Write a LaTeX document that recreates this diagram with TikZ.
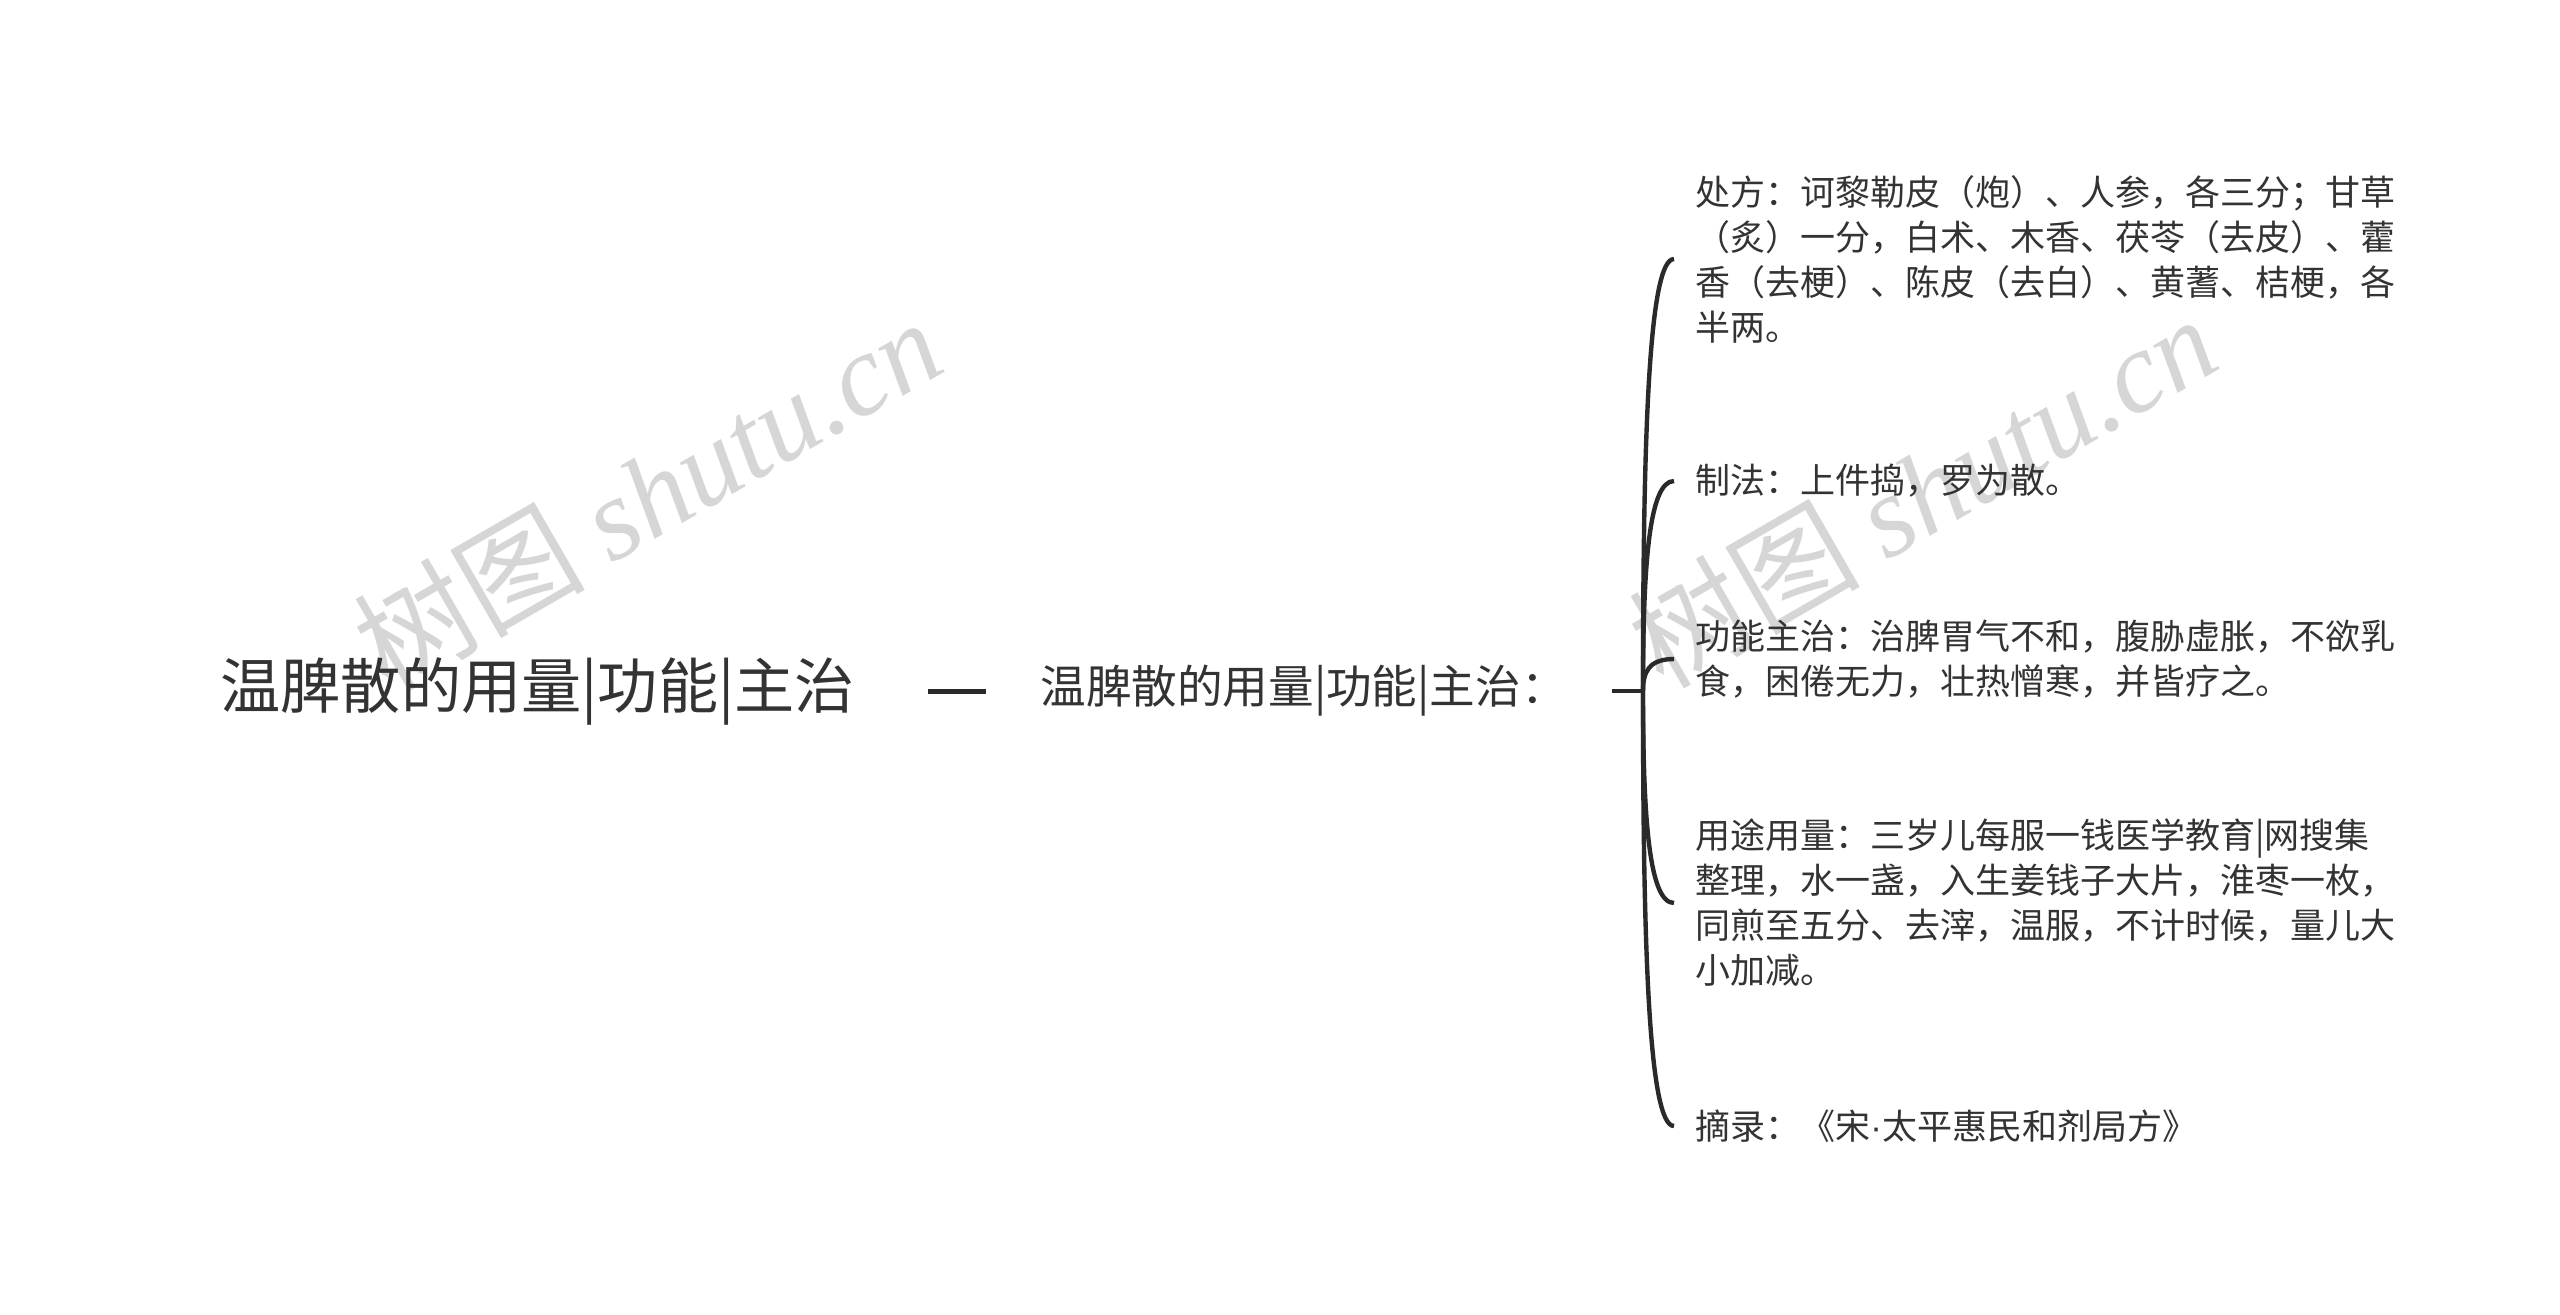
\documentclass[tikz,border=0pt]{standalone}
\usepackage{fontspec}
\setmainfont{Noto Sans CJK SC}
\newfontfamily\wmlatin{Liberation Serif}
\newfontfamily\latinsans{Liberation Sans}
\usetikzlibrary{calc}
\definecolor{txt}{HTML}{333333}
\definecolor{ln}{HTML}{2A2A2A}
\definecolor{wmc}{HTML}{D6D6D6}
\tikzset{
 leaf/.style={anchor=west, inner xsep=10.5pt, inner ysep=0pt, align=left, text=txt, font=\fontsize{17.5pt}{22.5pt}\selectfont},
 br/.style={draw=ln, line width=2.2pt},
 wm/.style={text=wmc, font=\fontsize{58pt}{60pt}\selectfont, inner sep=0pt},
 rootnode/.style={anchor=west, inner sep=0pt, text=txt, font=\fontsize{30.1pt}{36pt}\selectfont},
 midnode/.style={anchor=west, inner sep=0pt, text=txt, font=\fontsize{22.8pt}{28pt}\selectfont},
}
\begin{document}
\begin{tikzpicture}[x=0.5pt,y=-0.5pt]
\fill[white] (0,0) rectangle (2560,1314);
\useasboundingbox (0,0) rectangle (2560,1314);
\node[wm, rotate=30] (wm1) at (647,493) {树图 {\wmlatin\itshape shutu.cn}};
\node[wm, rotate=30] (wm2) at (1922,490) {树图 {\wmlatin\itshape shutu.cn}};
\node[rootnode] (root) at (220,691) {温脾散的用量|功能|主治};
\node[midnode] (mid) at (1040,691) {温脾散的用量|功能|主治：};
\draw[br, line width=2.5pt, shorten <=36.5pt, shorten >=27pt] (root.east) -- (mid.west);
\coordinate (S) at (1612,691);
\coordinate (J) at (1643,691);
\draw[br] (S) -- (J);
\node[leaf] (T1) at (1674,259) {处方：诃黎勒皮（炮）、人参，各三分；甘草\\（炙）一分，白术、木香、茯苓（去皮）、藿\\香（去梗）、陈皮（去白）、黄蓍、桔梗，各\\半两。};
\node[leaf] (T2) at (1674,481) {制法：上件捣，罗为散。};
\node[leaf] (T3) at (1674,659) {功能主治：治脾胃气不和，腹胁虚胀，不欲乳\\食，困倦无力，壮热憎寒，并皆疗之。};
\node[leaf] (T4) at (1674,903) {用途用量：三岁儿每服一钱医学教育|网搜集\\整理，水一盏，入生姜钱子大片，淮枣一枚，\\同煎至五分、去滓，温服，不计时候，量儿大\\小加减。};
\node[leaf] (T5) at (1674,1126) {摘录：《宋{\latinsans ·}太平惠民和剂局方》};
\foreach \t in {T1,T2,T3,T4,T5}{
  \draw[br] (J) .. controls ($(J)!0.6!(J|-\t.west)$) and ($(J|-\t.west)+(6,0)$) .. (\t.west);
}
\end{tikzpicture}
\end{document}
